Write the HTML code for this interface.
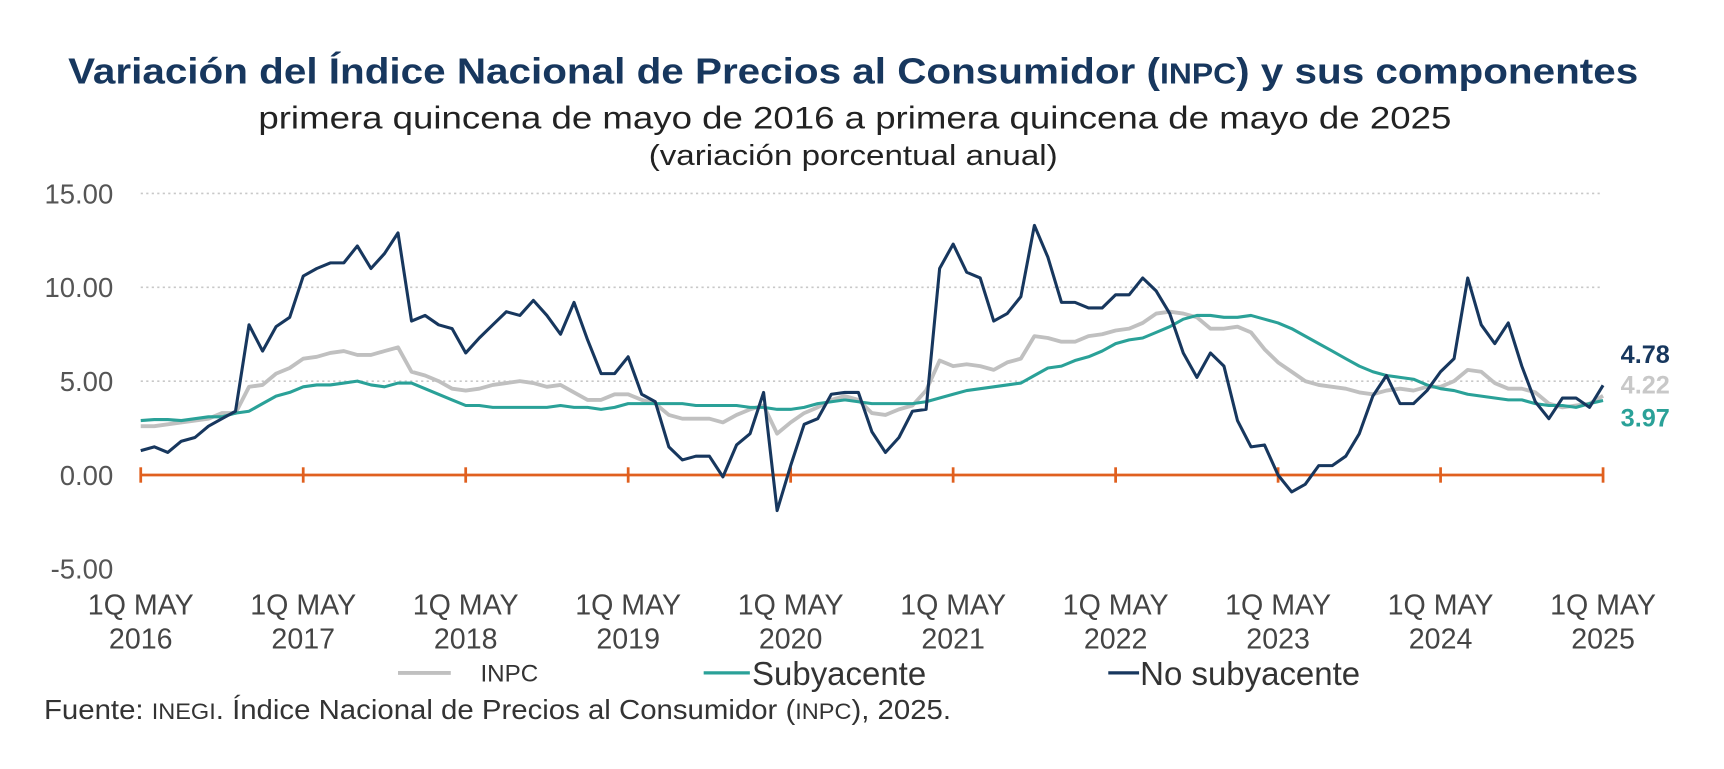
<!DOCTYPE html>
<html><head><meta charset="utf-8"><style>
body{margin:0;background:#fff;}
svg{display:block;font-family:"Liberation Sans",Arial,sans-serif;}
</style></head><body>
<svg id="chart" width="1724" height="769" viewBox="0 0 1568 699.4" preserveAspectRatio="none" xmlns="http://www.w3.org/2000/svg">
<text x="62" y="76" font-size="33" font-weight="bold" fill="#17375e" textLength="1428" lengthAdjust="spacingAndGlyphs">Variación del Índice Nacional de Precios al Consumidor (<tspan font-size="26">INPC</tspan>) y sus componentes</text>
<text x="235" y="117" font-size="29" fill="#222" textLength="1085" lengthAdjust="spacingAndGlyphs">primera quincena de mayo de 2016 a primera quincena de mayo de 2025</text>
<text x="590" y="150" font-size="26" fill="#222" textLength="372" lengthAdjust="spacingAndGlyphs">(variación porcentual anual)</text>
<g id="grid"></g>
<g id="yaxis"></g>
<g id="xaxis"></g>
<g id="series"></g>
<g id="endlabels"></g>
<g>
<line x1="362" y1="612" x2="410" y2="612" stroke="#c0c0c0" stroke-width="3.5"/>
<text x="437" y="620" font-size="22" fill="#333">INPC</text>
<line x1="640" y1="612" x2="682" y2="612" stroke="#2aa198" stroke-width="3"/>
<text x="684" y="623" font-size="30" fill="#333">Subyacente</text>
<line x1="1008" y1="612" x2="1036" y2="612" stroke="#17375e" stroke-width="3"/>
<text x="1037" y="623" font-size="30" fill="#333">No subyacente</text>
</g>
<text x="40" y="654" font-size="25" fill="#333" textLength="825" lengthAdjust="spacingAndGlyphs">Fuente: <tspan font-size="20">INEGI</tspan>. Índice Nacional de Precios al Consumidor (<tspan font-size="20">INPC</tspan>), 2025.</text>
</svg>
<script>
const yTicks=[15,10,5,0,-5];
const yTickLabels=["15.00","10.00","5.00","0.00","-5.00"];
const xYears=["2016","2017","2018","2019","2020","2021","2022","2023","2024","2025"];
const noSubyacente=[1.3,1.5,1.2,1.8,2.0,2.6,3.0,3.4,8.0,6.6,7.9,8.4,
10.6,11.0,11.3,11.3,12.2,11.0,11.8,12.9,8.2,8.5,8.0,7.8,
6.5,7.3,8.0,8.7,8.5,9.3,8.5,7.5,9.2,7.2,5.4,5.4,
6.3,4.3,3.9,1.5,0.8,1.0,1.0,-0.1,1.6,2.2,4.4,-1.9,
0.5,2.7,3.0,4.3,4.4,4.4,2.3,1.2,2.0,3.4,3.5,11.0,
12.3,10.8,10.5,8.2,8.6,9.5,13.3,11.6,9.2,9.2,8.9,8.9,
9.6,9.6,10.5,9.8,8.6,6.5,5.2,6.5,5.8,2.9,1.5,1.6,
0.0,-0.9,-0.5,0.5,0.5,1.0,2.2,4.2,5.3,3.8,3.8,4.5,
5.5,6.2,10.5,8.0,7.0,8.1,5.8,3.9,3.0,4.1,4.1,3.6,4.78];
const subyacente=[2.9,2.95,2.95,2.9,3.0,3.1,3.1,3.3,3.4,3.8,4.2,4.4,
4.7,4.8,4.8,4.9,5.0,4.8,4.7,4.9,4.9,4.6,4.3,4.0,
3.7,3.7,3.6,3.6,3.6,3.6,3.6,3.7,3.6,3.6,3.5,3.6,
3.8,3.8,3.8,3.8,3.8,3.7,3.7,3.7,3.7,3.6,3.6,3.5,
3.5,3.6,3.8,3.9,4.0,3.9,3.8,3.8,3.8,3.8,3.9,4.1,
4.3,4.5,4.6,4.7,4.8,4.9,5.3,5.7,5.8,6.1,6.3,6.6,
7.0,7.2,7.3,7.6,7.9,8.3,8.5,8.5,8.4,8.4,8.5,8.3,
8.1,7.8,7.4,7.0,6.6,6.2,5.8,5.5,5.3,5.2,5.1,4.8,
4.6,4.5,4.3,4.2,4.1,4.0,4.0,3.8,3.7,3.7,3.6,3.8,3.97];
const inpc=[2.6,2.6,2.7,2.8,2.9,3.0,3.3,3.3,4.7,4.8,5.4,5.7,
6.2,6.3,6.5,6.6,6.4,6.4,6.6,6.8,5.5,5.3,5.0,4.6,
4.5,4.6,4.8,4.9,5.0,4.9,4.7,4.8,4.4,4.0,4.0,4.3,
4.3,4.0,3.8,3.2,3.0,3.0,3.0,2.8,3.2,3.5,3.7,2.2,
2.8,3.3,3.6,4.0,4.2,4.0,3.3,3.2,3.5,3.7,4.5,6.1,
5.8,5.9,5.8,5.6,6.0,6.2,7.4,7.3,7.1,7.1,7.4,7.5,
7.7,7.8,8.1,8.6,8.7,8.6,8.4,7.8,7.8,7.9,7.6,6.7,
6.0,5.5,5.0,4.8,4.7,4.6,4.4,4.3,4.5,4.6,4.5,4.7,
4.7,5.0,5.6,5.5,4.9,4.6,4.6,4.4,3.8,3.6,3.7,3.8,4.22];
const NS='http://www.w3.org/2000/svg';
const X0=128,X1=1458,Y0=432,PPU=17.07;
const nMonths=noSubyacente.length-1;
function xScale(i){return X0+(X1-X0)*i/nMonths;}
function yScale(v){return Y0-v*PPU;}
function mk(tag,attrs,parent){const e=document.createElementNS(NS,tag);for(const k in attrs)e.setAttribute(k,attrs[k]);parent.appendChild(e);return e;}
const grid=document.getElementById('grid'),yaxis=document.getElementById('yaxis'),xaxis=document.getElementById('xaxis'),series=document.getElementById('series'),endl=document.getElementById('endlabels');
yTicks.forEach((t,i)=>{
  if(t>0){const g=mk('line',{x1:X0,x2:X1,y1:yScale(t),y2:yScale(t),stroke:'#c8c8c8','stroke-width':1.5,'stroke-dasharray':'2 3'},grid);
  
  }
  const tx=mk('text',{x:103,y:yScale(t)+9,'text-anchor':'end','font-size':25,fill:'#555'},yaxis);
  
  
  tx.textContent=yTickLabels[i];
});
const ax=mk('line',{x1:X0,x2:X1,y1:Y0,y2:Y0,stroke:'#e0601f','stroke-width':2.5},xaxis);


xYears.forEach((yr,i)=>{
  const x=xScale(i*12);
  const tk=mk('line',{x1:x,x2:x,y1:Y0-7,y2:Y0+7,stroke:'#e0601f','stroke-width':2.5},xaxis);
  
  
  const t1=mk('text',{x:x,y:559,'text-anchor':'middle','font-size':26,fill:'#444'},xaxis);
  
  
  t1.textContent='1Q MAY';
  const t2=mk('text',{x:x,y:590,'text-anchor':'middle','font-size':26,fill:'#444'},xaxis);
  
  
  t2.textContent=yr;
});
function line(data,color,w,name){
  const d=data.map((v,i)=>(i?'L':'M')+xScale(i).toFixed(1)+' '+yScale(v).toFixed(1)).join(' ');
  const p=mk('path',{d:d,fill:'none',stroke:color,'stroke-width':w,'stroke-linejoin':'round'},series);
  
  
}
line(inpc,'#c0c0c0',3.5,'inpc-line');
line(subyacente,'#2aa198',2.8,'subyacente-line');
line(noSubyacente,'#17375e',2.8,'no-subyacente-line');
const ends=[[noSubyacente,'#17375e',322,'end-label-no-subyacente'],[inpc,'#c8c8c8',350,'end-label-inpc'],[subyacente,'#2aa198',380,'end-label-subyacente']];
ends.forEach(e=>{
  const t=mk('text',{x:1474,y:e[2]+8,'font-size':23,'font-weight':'bold',fill:e[1]},endl);
  
  
  t.textContent=e[0][e[0].length-1].toFixed(2);
});
</script>
</body></html>
